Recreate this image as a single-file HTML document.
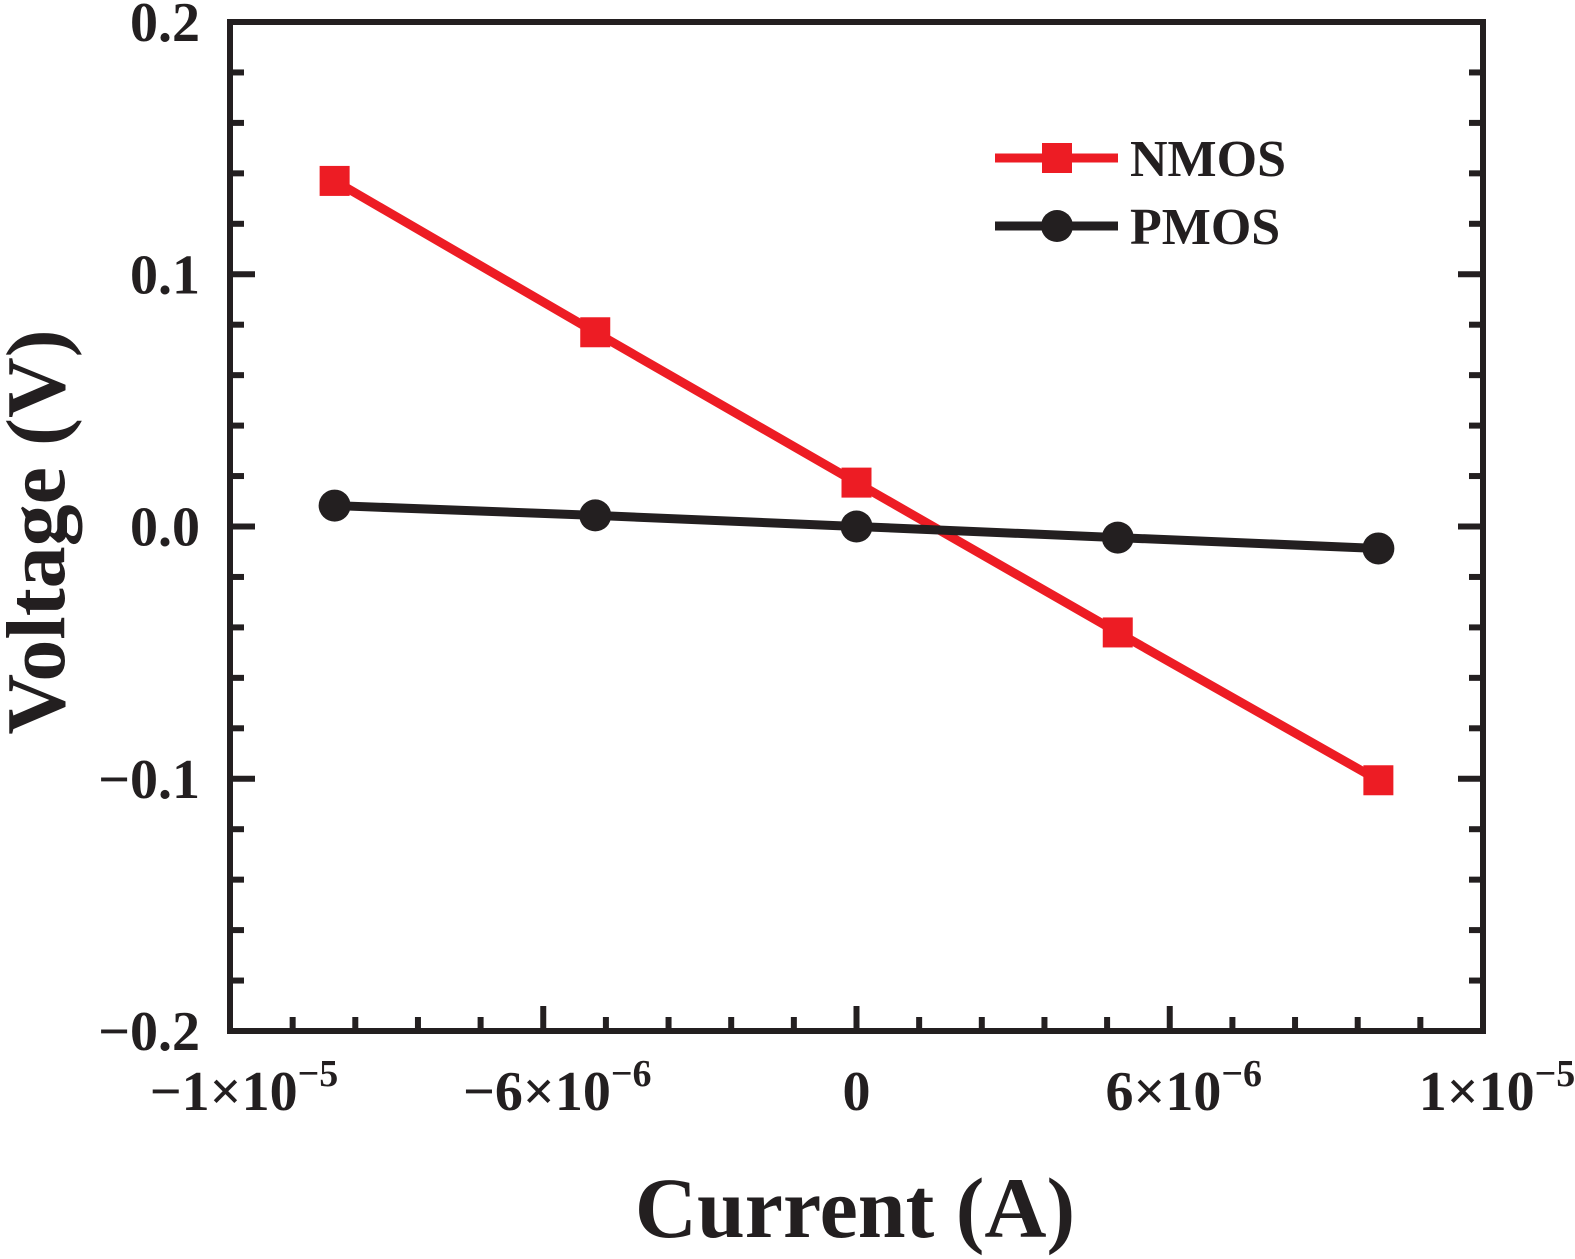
<!DOCTYPE html>
<html><head><meta charset="utf-8"><style>
body{margin:0;background:#fff;}
svg{display:block;font-family:"Liberation Serif",serif;font-weight:bold;}
</style></head><body>
<svg id="chart" width="1575" height="1259" viewBox="0 0 1575 1259" xmlns="http://www.w3.org/2000/svg">
<g id="plot"></g>
</svg>
<script>
const categories = [-8.33e-6, -4.17e-6, 0, 4.17e-6, 8.33e-6];
const nmosValues = [0.137, 0.077, 0.0174, -0.042, -0.1006];
const pmosValues = [0.0083, 0.0044, 0, -0.0044, -0.0087];
const xTickValues = [-1e-5, -5e-6, 0, 5e-6, 1e-5];
const xTickLabels = [["−1×10","−5"],["−6×10","−6"],["0",""],["6×10","−6"],["1×10","−5"]];
const yTickValues = [0.2, 0.1, 0, -0.1, -0.2];
const yTickLabels = ["0.2","0.1","0.0","−0.1","−0.2"];

const L=230,R=1483,T=22,B=1031;
const xs=v=>L+(v+1e-5)/2e-5*(R-L);
const ys=v=>T+(0.2-v)/0.4*(B-T);
const NS="http://www.w3.org/2000/svg";
const g=document.getElementById('plot');
function mk(tag,attrs,parent){const e=document.createElementNS(NS,tag);for(const k in attrs)e.setAttribute(k,attrs[k]);(parent||g).appendChild(e);return e;}

const frame=mk('rect',{x:L,y:T,width:R-L,height:B-T,fill:'none',stroke:'#231f20','stroke-width':6});



for(let i=0;i<=20;i++){
  const v=-1e-5+i*1e-6, x=xs(v), major=(i%5===0);
  const t=mk('line',{x1:x,x2:x,y1:B,y2:B-(major?25:14),stroke:'#231f20','stroke-width':6});
  
  
}
for(let i=0;i<=20;i++){
  const v=-0.2+i*0.02, y=ys(v), major=(i%5===0), len=major?25:14;
  const t1=mk('line',{x1:L,x2:L+len,y1:y,y2:y,stroke:'#231f20','stroke-width':6});
  
  
  const t2=mk('line',{x1:R,x2:R-len,y1:y,y2:y,stroke:'#231f20','stroke-width':6});
  
  
}
xTickValues.forEach((v,i)=>{
  const t=mk('text',{x:xs(v),y:1110,'text-anchor':'middle','font-size':56,fill:'#231f20'});
  
  
  t.textContent=xTickLabels[i][0];
  if(xTickLabels[i][1]){const s=mk('tspan',{dy:-24,'font-size':38},t);s.textContent=xTickLabels[i][1];}
  if(xTickLabels[i][1]) t.setAttribute('x',xs(v)+14);
});
yTickValues.forEach((v,i)=>{
  const t=mk('text',{x:200,y:ys(v)+19,'text-anchor':'end','font-size':56,fill:'#231f20'});
  
  
  t.textContent=yTickLabels[i];
});
const xt=mk('text',{x:855,y:1237,'text-anchor':'middle','font-size':86,fill:'#231f20'});


xt.textContent='Current (A)';
const yt=mk('text',{x:0,y:0,'text-anchor':'middle','font-size':84,fill:'#231f20',transform:'translate(64,532) rotate(-90)'});


yt.textContent='Voltage (V)';

function line(vals,color,name){
  const pts=vals.map((v,i)=>xs(categories[i])+','+ys(v)).join(' ');
  const p=mk('polyline',{points:pts,fill:'none',stroke:color,'stroke-width':9});
  
  
}
line(nmosValues,'#ed1c24','nmos');
line(pmosValues,'#231f20','pmos');
nmosValues.forEach((v,i)=>{
  const r=mk('rect',{x:xs(categories[i])-15,y:ys(v)-15,width:30,height:30,fill:'#ed1c24'});
  
  
});
pmosValues.forEach((v,i)=>{
  const c=mk('circle',{cx:xs(categories[i]),cy:ys(v),r:16,fill:'#231f20'});
  
  
});
const l1=mk('line',{x1:995,x2:1118,y1:158,y2:158,stroke:'#ed1c24','stroke-width':9});


const l1m=mk('rect',{x:1042,y:143,width:30,height:30,fill:'#ed1c24'});


const l1t=mk('text',{x:1130,y:176,'font-size':52,fill:'#231f20'});


l1t.textContent='NMOS';
const l2=mk('line',{x1:995,x2:1118,y1:226,y2:226,stroke:'#231f20','stroke-width':9});


const l2m=mk('circle',{cx:1057,cy:226,r:16,fill:'#231f20'});


const l2t=mk('text',{x:1130,y:244,'font-size':52,fill:'#231f20'});


l2t.textContent='PMOS';
</script>
</body></html>
